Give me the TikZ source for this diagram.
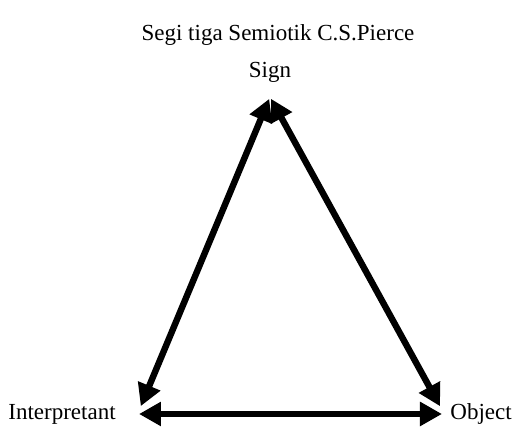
\documentclass[tikz,border=0pt]{standalone}
\usepackage{fontspec}
\setmainfont{Liberation Serif}
\usetikzlibrary{arrows.meta}
\begin{document}
\begin{tikzpicture}[x=0.5pt, y=-0.5pt,
    label text/.style={font=\fontsize{11.5}{13}\selectfont, inner sep=0pt},
    relation/.style={line width=3.2pt, {Triangle[length=11pt,width=11.5pt]}-{Triangle[length=11pt,width=11.5pt]}, shorten <=1pt, shorten >=1pt}]
    % Frame
    \useasboundingbox[fill=white] (0,0) rectangle (516,432);

    % Labels
    \node[label text] (title) at (278,35) {Segi tiga Semiotik C.S.Pierce};
    \node[label text] (sign) at (270,72) {Sign};
    \node[label text, anchor=west] (interpretant) at (8,414) {Interpretant};
    \node[label text, anchor=west] (object) at (450,414) {Object};

    % Corners of the triangle
    \coordinate (top) at (270,97);
    \coordinate (left) at (140,408);
    \coordinate (right) at (441,408);
    \coordinate (left low) at (137,414);
    \coordinate (right low) at (444,414);

    % Relations
    \draw[relation] (top) -- (left);
    \draw[relation] (top) -- (right);
    \draw[relation] (left low) -- (right low);
\end{tikzpicture}
\end{document}
